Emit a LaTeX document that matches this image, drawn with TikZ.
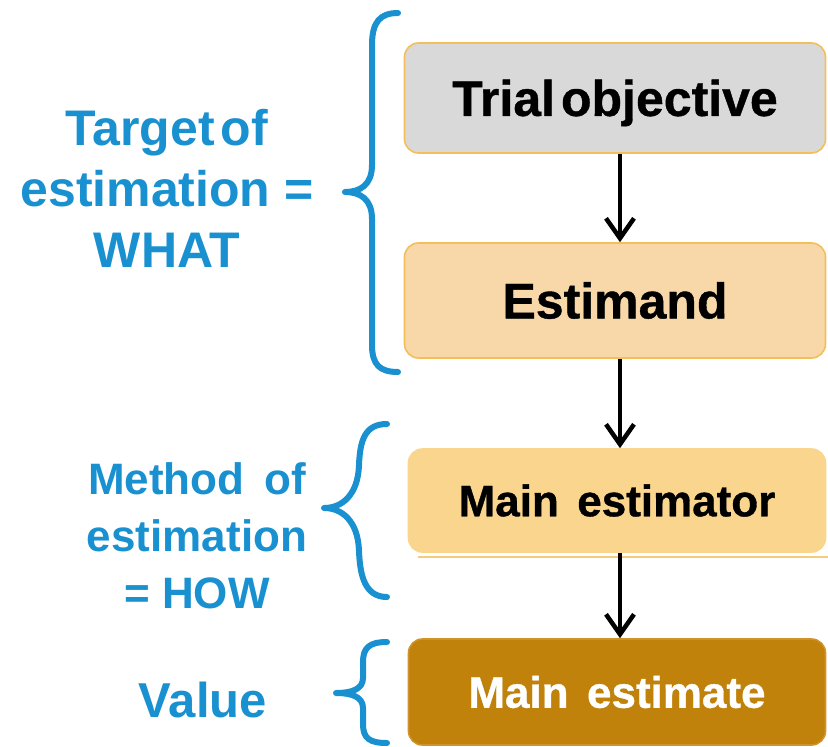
\documentclass[tikz,border=0pt]{standalone}
\usepackage{fontspec}
\setmainfont{Liberation Sans}
\newfontfamily\heavysans{Liberation Sans}[BoldFeatures={FakeBold=0.8}]
\usetikzlibrary{arrows.meta}

\definecolor{braceblue}{HTML}{1990D0}
\definecolor{objfill}{HTML}{D9D9D9}
\definecolor{boxedge}{HTML}{F4BE5A}
\definecolor{estfill}{HTML}{F8D8A8}
\definecolor{estorfill}{HTML}{FAD58E}
\definecolor{valfill}{HTML}{C0820A}
\definecolor{valedge}{HTML}{D0922A}

\tikzset{
  flowbox/.style={rounded corners=14pt, line width=1.6pt, inner sep=0pt, text depth=0pt},
  bigtext/.style={font=\fontsize{50}{60}\selectfont\heavysans\bfseries, text height=35.8pt},
  midtext/.style={font=\fontsize{44}{52}\selectfont\heavysans\bfseries, text height=31.5pt},
  flowarrow/.style={line width=4.5pt, -{Straight Barb[length=20pt,width=28pt,line width=4.5pt]}},
  bracestroke/.style={draw=braceblue, line width=6pt, line cap=round, line join=round},
  sidelabel/.style={text=braceblue, align=center, inner sep=0pt}
}

\begin{document}
\begin{tikzpicture}[x=1pt, y=-1pt]
\useasboundingbox (0,0) rectangle (828,747);

% flow of boxes on the right
\node[flowbox, bigtext, fill=objfill, draw=boxedge, minimum width=421pt, minimum height=110pt]
  (obj) at (615,98) {Trial\hspace{0.12em}objective};
\node[flowbox, bigtext, fill=estfill, draw=boxedge, minimum width=421pt, minimum height=115pt]
  (estimand) at (615,300.5) {Estimand};
\node[flowbox, midtext, fill=estorfill, draw=estorfill, minimum width=417pt, minimum height=103pt]
  (estimator) at (617,500.5) {Main\hspace{0.42em}estimator};
\node[flowbox, midtext, fill=valfill, draw=valedge, text=white, minimum width=417pt, minimum height=106pt]
  (estimate) at (617,692) {Main\hspace{0.42em}estimate};

% thin rule below the estimator box
\coordinate (ruleL) at (418,557);
\coordinate (ruleR) at (828,557);
\draw[boxedge!80, line width=1.5pt] (ruleL) -- (ruleR);

% arrows between boxes
\draw[flowarrow] (obj.south -| 620,0) -- (estimand.north -| 620,0);
\draw[flowarrow] (estimand.south -| 620,0) -- (estimator.north -| 620,0);
\draw[flowarrow] (estimator.south -| 620,0) -- (estimate.north -| 620,0);

% curly braces
\draw[bracestroke] (398,13) .. controls (380,13) and (372,22) .. (372,45)
  -- (372,165) .. controls (372,185) and (360,192) .. (345,192)
  .. controls (360,192) and (372,199) .. (372,219)
  -- (372,345) .. controls (372,365) and (380,372) .. (398,372);
\draw[bracestroke] (387,424) .. controls (365,424) and (360,440) .. (359,465)
  .. controls (358,495) and (342,508) .. (324,508)
  .. controls (342,508) and (358,521) .. (359,551)
  .. controls (360,576) and (365,597) .. (387,597);
\draw[bracestroke] (387,642) .. controls (369,642) and (363,648) .. (363,662)
  -- (363,678) .. controls (363,689) and (352,693) .. (336,693)
  .. controls (352,693) and (363,697) .. (363,708)
  -- (363,724) .. controls (363,738) and (369,743) .. (387,743);

% labels on the left
\node[sidelabel, anchor=north, font=\fontsize{50}{61}\selectfont\bfseries]
  (what) at (167,109) {Target\hspace{0.12em}of\\estimation =\\WHAT};
\node[sidelabel, anchor=north, font=\fontsize{44}{57}\selectfont\bfseries]
  (how) at (197,462) {Method\hspace{0.45em}of\\estimation\\= HOW};
\node[sidelabel, anchor=base, font=\fontsize{49}{58}\selectfont\bfseries]
  (value) at (203,717) {Value};
\end{tikzpicture}
\end{document}
